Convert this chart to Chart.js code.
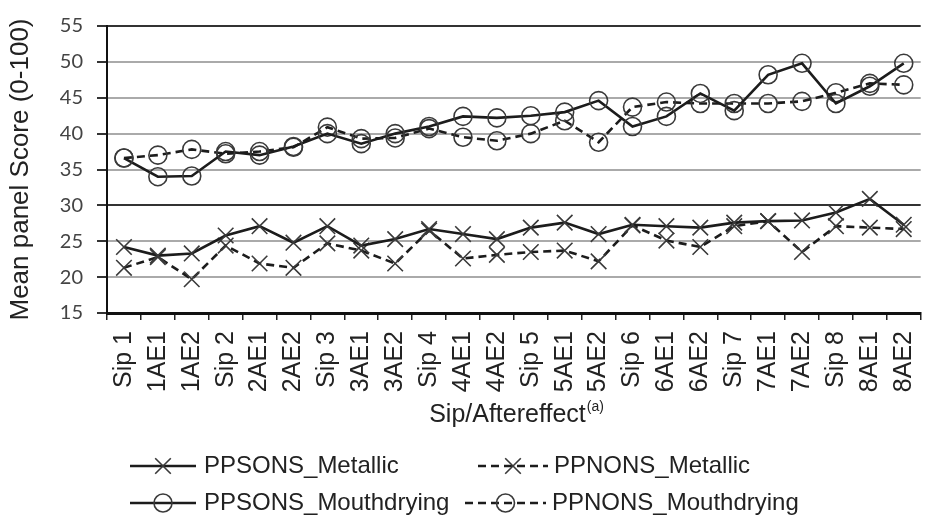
<!DOCTYPE html>
<html>
<head>
<meta charset="utf-8">
<script src="https://cdn.jsdelivr.net/npm/chart.js@4.4.1/dist/chart.umd.min.js"></script>
<style>
  html, body { margin: 0; padding: 0; background: #fff; overflow: hidden; }
  #wrap { position: relative; width: 945px; height: 521px; }
</style>
</head>
<body>
<div id="wrap"><canvas id="panelChart"></canvas></div>
<script>
// categorias: sorbo y efectos posteriores
const labels = ['Sip 1', '1AE1', '1AE2', 'Sip 2', '2AE1', '2AE2', 'Sip 3', '3AE1', '3AE2',
    'Sip 4', '4AE1', '4AE2', 'Sip 5', '5AE1', '5AE2', 'Sip 6', '6AE1', '6AE2',
    'Sip 7', '7AE1', '7AE2', 'Sip 8', '8AE1', '8AE2'];

// valores
const ppsonsMetallic = [24.2, 23.0, 23.3, 25.8, 27.1, 24.8, 27.1, 24.4, 25.3, 26.7, 26.0, 25.3,
    26.9, 27.6, 26.0, 27.3, 27.1, 26.9, 27.6, 27.8, 27.9, 29.0, 30.9, 27.3];
const ppnonsMetallic = [21.3, 22.8, 19.7, 24.4, 21.9, 21.3, 24.7, 23.7, 21.9, 26.5, 22.6, 23.1,
    23.5, 23.7, 22.2, 27.2, 25.1, 24.2, 27.1, 27.8, 23.5, 27.1, 26.9, 26.7];
const ppsonsMouthdrying = [36.6, 34.0, 34.1, 37.5, 37.0, 38.2, 40.0, 38.6, 40.0, 41.0, 42.4, 42.2,
    42.5, 43.0, 44.6, 41.0, 42.4, 45.6, 43.2, 48.2, 49.8, 44.2, 46.6, 49.8];
const ppnonsMouthdrying = [36.6, 37.0, 37.8, 37.2, 37.5, 38.1, 40.9, 39.3, 39.4, 40.7, 39.5, 39.0,
    40.0, 41.8, 38.8, 43.7, 44.4, 44.2, 44.2, 44.2, 44.5, 45.7, 47.0, 46.8];

const yTicks = [15, 20, 25, 30, 35, 40, 45, 50, 55];

const LINE = '#1c1c1c';
const MARK = '#3a3a3a';
const DASH = [8, 5];

function serie(label, data, style, dashed) {
    return {
        label: label,
        data: data,
        borderColor: LINE,
        borderWidth: 2.6,
        borderDash: dashed ? DASH : [],
        pointStyle: style,
        pointRadius: style === 'crossRot' ? 11 : 9,
        pointBorderColor: MARK,
        pointBorderWidth: 1.6,
        pointBackgroundColor: 'rgba(0,0,0,0)',
        tension: 0,
        fill: false
    };
}

// dibuja el marcador de la leyenda
function drawMarker(ctx, style, x, y) {
    ctx.save();
    ctx.setLineDash([]);
    ctx.strokeStyle = MARK;
    ctx.lineWidth = 1.6;
    ctx.beginPath();
    if (style === 'crossRot') {
        const r = 7.8;
        ctx.moveTo(x - r, y - r); ctx.lineTo(x + r, y + r);
        ctx.moveTo(x - r, y + r); ctx.lineTo(x + r, y - r);
    } else {
        ctx.arc(x, y, 9, 0, Math.PI * 2);
    }
    ctx.stroke();
    ctx.restore();
}

const legendPlugin = {
    id: 'sketchLegend',
    afterDraw(chart) {
        const ctx = chart.ctx;
        const items = [
            { ds: 0, y: 466, x0: 130, x1: 196, tx: 204 },
            { ds: 1, y: 466, x0: 478, x1: 548, tx: 554 },
            { ds: 2, y: 503, x0: 130, x1: 196, tx: 204 },
            { ds: 3, y: 503, x0: 465, x1: 546, tx: 552 }
        ];
        ctx.save();
        items.forEach(it => {
            const ds = chart.data.datasets[it.ds];
            ctx.strokeStyle = LINE;
            ctx.lineWidth = 2.6;
            ctx.setLineDash(ds.borderDash);
            ctx.beginPath();
            ctx.moveTo(it.x0, it.y);
            ctx.lineTo(it.x1, it.y);
            ctx.stroke();
            drawMarker(ctx, ds.pointStyle, (it.x0 + it.x1) / 2, it.y);
            ctx.fillStyle = '#222';
            ctx.font = '24px "Liberation Sans", Arial, sans-serif';
            ctx.textBaseline = 'middle';
            ctx.textAlign = 'left';
            ctx.fillText(ds.label, it.tx, it.y);
        });

        // titulo del eje x con superindice
        const main = 'Sip/Aftereffect';
        const sup = '(a)';
        ctx.font = '25px "Liberation Sans", Arial, sans-serif';
        const w1 = ctx.measureText(main).width;
        ctx.font = '14px "Liberation Sans", Arial, sans-serif';
        const w2 = ctx.measureText(sup).width;
        const x = 516 - (w1 + w2) / 2;
        ctx.textBaseline = 'alphabetic';
        ctx.font = '25px "Liberation Sans", Arial, sans-serif';
        ctx.fillText(main, x, 422);
        ctx.font = '14px "Liberation Sans", Arial, sans-serif';
        ctx.fillText(sup, x + w1 + 1, 411);
        ctx.restore();
    }
};

document.addEventListener('DOMContentLoaded', function() {
    const ctx = document.getElementById('panelChart').getContext('2d');
    new Chart(ctx, {
        type: 'line',
        data: {
            labels: labels,
            datasets: [
                serie('PPSONS_Metallic', ppsonsMetallic, 'crossRot', false),
                serie('PPNONS_Metallic', ppnonsMetallic, 'crossRot', true),
                serie('PPSONS_Mouthdrying', ppsonsMouthdrying, 'circle', false),
                serie('PPNONS_Mouthdrying', ppnonsMouthdrying, 'circle', true)
            ]
        },
        options: {
            responsive: true,
            maintainAspectRatio: false,
            animation: false,
            layout: { padding: { top: 14, right: 8, bottom: 0, left: 0 } },
            plugins: {
                legend: { display: false },
                tooltip: { enabled: false }
            },
            scales: {
                x: {
                    offset: true,
                    grid: {
                        offset: true,
                        drawOnChartArea: false,
                        drawTicks: true,
                        tickLength: 7,
                        color: '#222',
                        lineWidth: 1.5
                    },
                    border: { display: true, color: '#111', width: 3 },
                    ticks: {
                        autoSkip: false,
                        minRotation: 90,
                        maxRotation: 90,
                        padding: 11,
                        color: '#222',
                        font: { family: 'Liberation Sans', size: 25 }
                    },
                    afterFit: function(scale) { scale.height = 521 - 313; }
                },
                y: {
                    min: yTicks[0],
                    max: yTicks[yTicks.length - 1],
                    ticks: {
                        stepSize: yTicks[1] - yTicks[0],
                        padding: 14,
                        color: '#444',
                        font: { family: 'Lato', size: 20 }
                    },
                    grid: {
                        color: function(c) {
                            const v = c.tick ? c.tick.value : null;
                            return (v === 30 || v === 55 || v === 15) ? '#333' : '#aaaaaa';
                        },
                        lineWidth: 2,
                        tickLength: 10,
                        tickColor: '#333'
                    },
                    border: { display: true, color: '#111', width: 2 },
                    title: {
                        display: true,
                        text: 'Mean panel Score (0-100)',
                        color: '#222',
                        font: { family: 'Liberation Sans', size: 26 },
                        padding: { top: 5, bottom: 0 }
                    },
                    afterFit: function(scale) { scale.width = 107; }
                }
            }
        },
        plugins: [legendPlugin]
    });
});
</script>
</body>
</html>
